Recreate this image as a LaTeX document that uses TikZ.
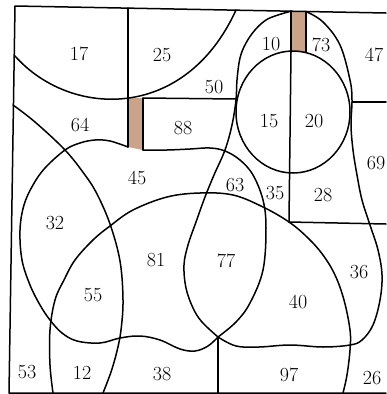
\documentclass[tikz,border=0pt]{standalone}
\definecolor{barbrown}{RGB}{203,163,138}
\tikzset{
  edge/.style={line width=1.5pt, black, line join=round, line cap=round},
  region/.style={font=\fontsize{20}{24}\selectfont, inner sep=0pt},
}
\begin{document}
\begin{tikzpicture}[x=1pt, y=-1pt]
  \useasboundingbox (0,0) rectangle (386,394);
  % frame corners
  \coordinate (TL) at (15,6);
  \coordinate (TR) at (386,13);
  \coordinate (BL) at (9,393);
  \coordinate (BR) at (386,393);
  % junctions
  \coordinate (J1) at (127,98.2);
  \coordinate (J2) at (218,337);
  \coordinate (J3) at (289,222);
  % brown bars
  \fill[barbrown] (128,98) -- (143,98) -- (143,150) -- (128,147) -- cycle;
  \fill[barbrown] (291,11.2) -- (306,11.5) -- (306,52) -- (291,52) -- cycle;
  % frame
  \draw[edge] (TR) -- (TL) -- (BL) -- (BR);
  % straight lines
  \draw[edge] (128,8) -- (128,147);
  \draw[edge] (143,98) -- (143,150);
  \draw[edge] (143,98) -- (236,99);
  \draw[edge] (291,11.2) -- (291,52);
  \draw[edge] (306,11.5) -- (306,52);
  \draw[edge] (291,52) -- (J3);
  \draw[edge] (J3) -- (386,224);
  \draw[edge] (352,102) -- (386,102);
  \draw[edge] (J2) -- (218,393);
  % top-left arc
  \draw[edge] (15,56) .. controls (70,118) and (185,122) .. (236,10);
  % left curve
  \draw[edge] plot[smooth, tension=0.6] coordinates {(13,105) (35,122) (65,150) (85,175) (97,194) (110,224) (120,261) (123,300) (121,330) (117,351) (111,372) (103,393)};
  % blob, left and bottom
  \draw[edge] plot[smooth, tension=0.6] coordinates {(128,147) (110,141) (95,140) (80,143) (65,150) (45,168) (33,185) (24,205) (20,230) (22,260) (30,285) (40,305) (50,320) (62,333) (77,341) (100,343) (120,338) (140,336) (160,340) (180,349) (195,351) (208,346) (J2)};
  % blob, right and top
  \draw[edge] plot[smooth, tension=0.6] coordinates {(J2) (236,322) (250,303) (263,270) (266,228) (263,200) (253,175) (240,160) (225,151) (210,148) (190,149) (167,150) (143,150)};
  % pear, left side
  \draw[edge] plot[smooth, tension=0.6] coordinates {(291,11.2) (278,15) (266,20) (255,30) (246,43) (240,58) (237,80) (236,100) (232,125) (225,150) (214,175) (205,197) (196,222) (188,245) (184,265) (186,288) (193,308) (202,322) (J2)};
  % pear, bottom and right side
  \draw[edge] plot[smooth, tension=0.6] coordinates {(J2) (236,346) (259,347) (290,345) (323,347) (350,345) (362,340) (373,325) (380,300) (382,275) (378,250) (370,225) (362,200) (357,175) (353,150) (351,125) (352,100) (350,80) (340,45) (323,22) (306,11.5)};
  % egg
  \draw[edge] (293,112) ellipse (57 and 61);
  % big arc
  \draw[edge] plot[smooth, tension=0.6] coordinates {(53,393) (50,365) (50,330) (55,300) (64,280) (75,260) (93,240) (110,226) (133,210) (167,197) (200,193) (233,195) (263,207) (J3) (308,238) (323,255) (335,275) (344,300) (350,330) (350,350) (347,375) (343,393)};
  % numbers
  \node[region] (n17) at (79,54) {17};
  \node[region] (n25) at (162,55) {25};
  \node[region] (n10) at (271,44) {10};
  \node[region] (n73) at (321,45) {73};
  \node[region] (n47) at (374,55) {47};
  \node[region] (n50) at (214,87) {50};
  \node[region] (n64) at (80,125) {64};
  \node[region] (n88) at (183,128) {88};
  \node[region] (n15) at (269,121) {15};
  \node[region] (n20) at (314,121) {20};
  \node[region] (n69) at (376,163) {69};
  \node[region] (n45) at (137,178) {45};
  \node[region] (n63) at (235,185) {63};
  \node[region] (n35) at (275,193) {35};
  \node[region] (n28) at (323,195) {28};
  \node[region] (n32) at (55,223) {32};
  \node[region] (n81) at (156,260) {81};
  \node[region] (n77) at (226,261) {77};
  \node[region] (n36) at (359,272) {36};
  \node[region] (n55) at (93,295) {55};
  \node[region] (n40) at (298,302) {40};
  \node[region] (n53) at (27,372) {53};
  \node[region] (n12) at (82,373) {12};
  \node[region] (n38) at (162,374) {38};
  \node[region] (n97) at (289,375) {97};
  \node[region] (n26) at (372,378) {26};
\end{tikzpicture}
\end{document}
